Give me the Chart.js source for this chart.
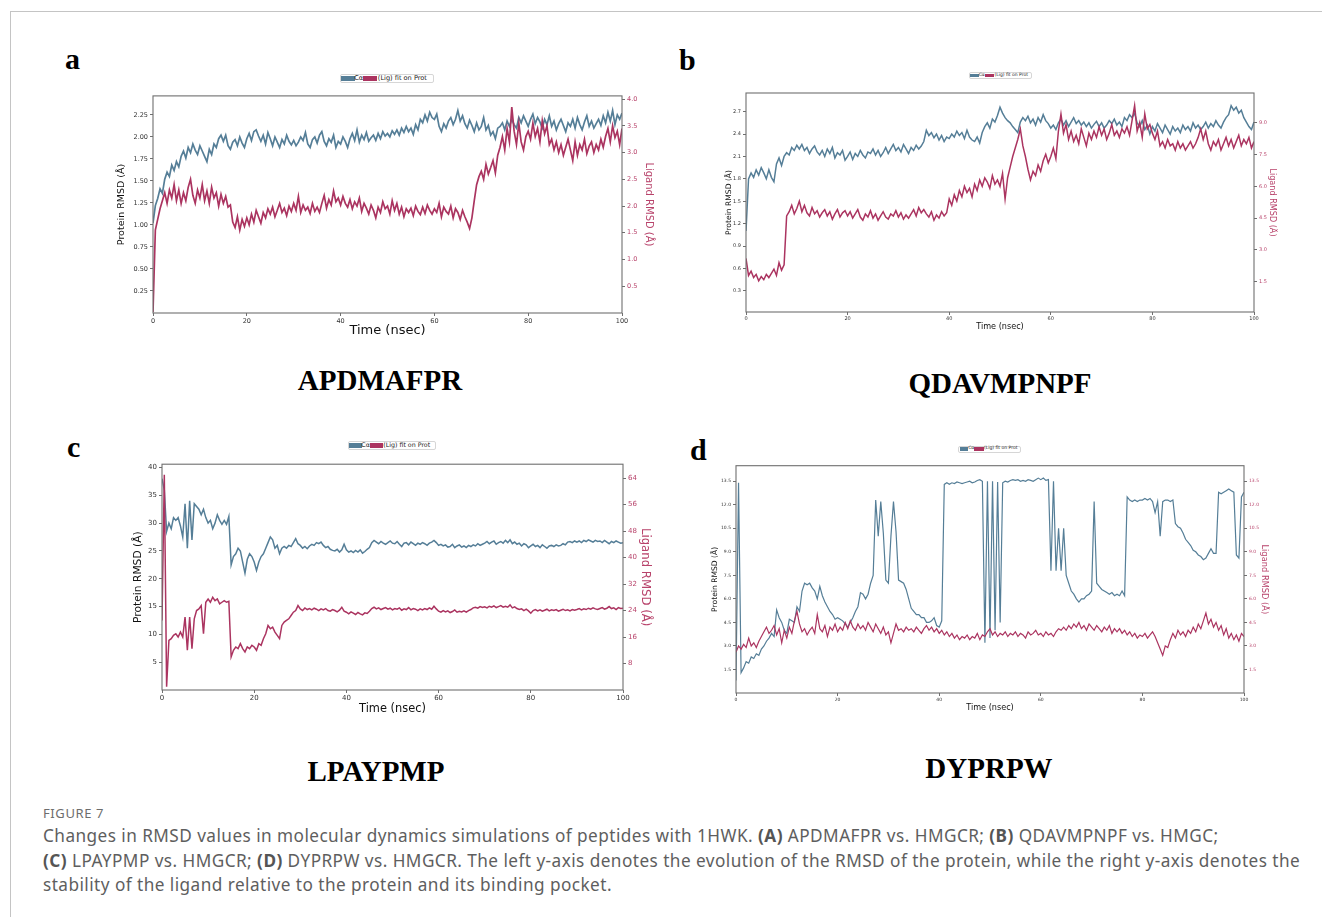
<!DOCTYPE html>
<html>
<head>
<meta charset="utf-8">
<script src="https://cdn.jsdelivr.net/npm/chart.js@4.4.1/dist/chart.umd.min.js"></script>
<style>
body{margin:0;background:#fff;width:1322px;height:917px;overflow:hidden;position:relative;font-family:"DejaVu Sans",sans-serif}
#frame{position:absolute;left:10px;top:11px;width:1330px;height:930px;border-left:1.5px solid #c4c4c4;border-top:1.5px solid #c4c4c4}
canvas{position:absolute}
.lbl{position:absolute;font-family:"Liberation Serif","Times New Roman",serif;font-weight:bold;line-height:1;white-space:nowrap;color:#000}
.panel{font-size:30px}
.pep{font-size:29px;text-align:center;width:300px}
.leg{position:absolute;border:1px solid #d6d6d6;border-radius:2px;background:#fff;box-sizing:border-box}
.leg span{position:absolute;white-space:nowrap;color:#222;line-height:1}
#figno{position:absolute;left:43px;top:805px;font-family:"Noto Sans",sans-serif;font-size:13px;line-height:16px;color:#6d6d6d;letter-spacing:0.6px}
#caption{position:absolute;left:43px;top:824px;font-family:"Noto Sans",sans-serif;font-size:17.2px;line-height:24.5px;color:#5e5e5e;white-space:nowrap;letter-spacing:0.45px}
#caption b{color:#555}
</style>
</head>
<body>
<div id="frame"></div>

<div class="lbl panel" style="left:65px;top:44px">a</div>
<div class="lbl panel" style="left:679px;top:45px">b</div>
<div class="lbl panel" style="left:67px;top:432px">c</div>
<div class="lbl panel" style="left:690px;top:435px">d</div>

<div class="lbl pep" style="left:230px;top:366px">APDMAFPR</div>
<div class="lbl pep" style="left:850px;top:369px">QDAVMPNPF</div>
<div class="lbl pep" style="left:226px;top:757px">LPAYPMP</div>
<div class="lbl pep" style="left:839px;top:754px">DYPRPW</div>

<div id="figno">FIGURE 7</div>
<div id="caption">Changes in RMSD values in molecular dynamics simulations of peptides with 1HWK. <b>(A)</b> APDMAFPR vs. HMGCR; <b>(B)</b> QDAVMPNPF vs. HMGC;<br><b>(C)</b> LPAYPMP vs. HMGCR; <b>(D)</b> DYPRPW vs. HMGCR. The left y-axis denotes the evolution of the RMSD of the protein, while the right y-axis denotes the<br>stability of the ligand relative to the protein and its binding pocket.</div>

<script>
// sampling step of all traces (ns)
const T_STEP = 0.5;

const X_TICKS = ['0', '20', '40', '60', '80', '100'];
const A_LEFT_TICKS = ['0.25', '0.50', '0.75', '1.00', '1.25', '1.50', '1.75', '2.00', '2.25'];
const A_RIGHT_TICKS = ['0.5', '1.0', '1.5', '2.0', '2.5', '3.0', '3.5', '4.0'];
const B_LEFT_TICKS = ['0.3', '0.6', '0.9', '1.2', '1.5', '1.8', '2.1', '2.4', '2.7'];
const B_RIGHT_TICKS = ['1.5', '3.0', '4.5', '6.0', '7.5', '9.0'];
const C_LEFT_TICKS = ['5', '10', '15', '20', '25', '30', '35', '40'];
const C_RIGHT_TICKS = ['8', '16', '24', '32', '40', '48', '56', '64'];
const D_LEFT_TICKS = ['1.5', '3.0', '4.5', '6.0', '7.5', '9.0', '10.5', '12.0', '13.5'];
const D_RIGHT_TICKS = ['1.5', '3.0', '4.5', '6.0', '7.5', '9.0', '10.5', '12.0', '13.5'];

// a) APDMAFPR
const A_PROT = [1.02,1.22,1.30,1.41,1.36,1.52,1.60,1.55,1.68,1.62,
1.72,1.66,1.78,1.84,1.76,1.88,1.82,1.92,1.85,1.80,
1.90,1.84,1.78,1.72,1.86,1.80,1.92,1.88,1.98,2.02,
1.95,2.02,1.90,1.86,1.94,1.97,1.90,2.00,1.93,1.88,
1.98,2.04,1.96,2.06,2.08,2.01,1.95,2.02,1.92,2.05,
1.98,1.90,2.00,1.94,1.88,1.97,1.92,2.02,1.95,1.91,
1.96,1.90,1.94,2.00,1.96,2.05,1.92,1.88,1.97,2.00,
1.93,2.02,2.06,1.95,1.90,1.98,1.94,2.02,1.88,1.95,
1.92,2.00,1.95,1.88,1.98,2.04,1.96,2.08,1.94,2.02,
1.97,2.05,1.95,1.99,2.02,1.96,2.04,1.98,2.06,2.01,
2.04,2.00,2.07,2.03,2.08,2.02,2.10,2.05,2.12,2.06,
2.10,2.03,2.14,2.08,2.20,2.16,2.25,2.18,2.28,2.22,
2.20,2.26,2.12,2.06,2.15,2.10,2.18,2.22,2.14,2.20,
2.30,2.18,2.24,2.15,2.10,2.19,2.13,2.06,2.16,2.08,
2.12,2.22,2.08,2.13,2.02,2.06,1.98,2.10,2.12,2.16,
2.08,2.18,2.12,2.20,2.14,2.10,2.22,2.16,2.24,2.18,
2.12,2.20,2.26,2.15,2.22,2.17,2.10,2.20,2.14,2.24,
2.12,2.18,2.08,2.15,2.20,2.13,2.06,2.16,2.12,2.20,
2.10,2.22,2.14,2.08,2.17,2.24,2.12,2.18,2.10,2.15,
2.20,2.13,2.24,2.16,2.28,2.18,2.30,2.14,2.25,2.20,
2.27];
const A_LIG = [0.02,1.55,1.75,1.95,2.10,2.25,2.05,2.30,2.15,2.40,
2.10,2.30,2.05,2.25,2.10,2.35,2.50,2.20,2.05,2.30,
2.15,2.40,2.10,2.28,2.05,2.35,2.15,2.25,2.00,2.22,
2.05,2.18,1.98,2.02,1.70,1.60,1.80,1.55,1.75,1.62,
1.78,1.65,1.85,1.70,1.92,1.80,1.68,1.88,1.78,1.95,
1.85,1.98,1.80,1.92,2.05,1.88,1.96,1.82,2.00,1.90,
2.05,1.92,2.18,1.88,2.02,1.92,1.98,1.86,2.05,1.90,
1.98,1.88,2.05,2.20,1.96,2.12,2.02,2.28,2.08,2.15,
2.02,2.18,2.05,1.98,2.12,1.95,2.08,2.00,2.15,1.90,
2.05,1.96,1.85,2.02,1.92,1.78,1.98,1.88,2.08,1.95,
2.00,1.85,2.10,1.92,2.05,1.85,1.98,1.80,1.95,1.88,
1.96,1.82,2.00,1.90,1.84,1.98,1.86,2.02,1.92,1.85,
1.95,1.88,2.05,1.80,1.98,1.90,1.85,2.00,1.78,1.95,
1.88,1.75,1.92,1.80,1.70,1.58,1.78,2.10,2.40,2.55,
2.65,2.50,2.78,2.60,2.72,2.85,2.62,2.95,3.10,3.30,
3.05,3.45,3.20,3.85,3.40,3.15,3.55,3.20,3.05,3.30,
3.40,3.25,3.55,3.30,3.45,3.20,3.60,3.35,3.50,3.15,
3.25,3.05,3.20,3.00,3.15,2.95,3.10,3.25,3.05,2.85,
3.20,2.95,3.15,3.05,3.25,2.98,3.12,3.20,3.00,3.15,
3.05,3.25,3.10,3.30,3.45,3.20,3.50,3.28,3.40,3.15,
3.45];

// b) QDAVMPNPF
const B_PROT = [1.10,1.80,1.88,1.82,1.92,1.85,1.95,1.88,1.80,1.92,
1.82,1.76,2.00,2.08,1.98,2.10,2.15,2.12,2.22,2.18,
2.25,2.20,2.26,2.18,2.22,2.14,2.20,2.24,2.16,2.12,
2.18,2.10,2.20,2.14,2.22,2.08,2.15,2.12,2.18,2.05,
2.10,2.16,2.06,2.14,2.10,2.18,2.12,2.08,2.16,2.14,
2.20,2.12,2.18,2.10,2.15,2.22,2.14,2.20,2.26,2.18,
2.22,2.16,2.26,2.20,2.14,2.22,2.18,2.25,2.20,2.24,
2.30,2.45,2.38,2.42,2.35,2.40,2.32,2.38,2.30,2.36,
2.34,2.40,2.36,2.44,2.38,2.42,2.34,2.45,2.36,2.32,
2.30,2.36,2.28,2.42,2.50,2.55,2.48,2.60,2.56,2.65,
2.76,2.68,2.62,2.58,2.55,2.50,2.46,2.42,2.56,2.62,
2.58,2.64,2.55,2.60,2.52,2.62,2.56,2.66,2.58,2.54,
2.48,2.52,2.46,2.55,2.60,2.52,2.58,2.50,2.56,2.62,
2.54,2.58,2.52,2.56,2.50,2.55,2.48,2.53,2.57,2.50,
2.55,2.48,2.52,2.58,2.54,2.60,2.52,2.56,2.50,2.62,
2.58,2.66,2.62,2.68,2.55,2.50,2.58,2.46,2.52,2.40,
2.50,2.44,2.54,2.48,2.42,2.52,2.46,2.40,2.50,2.44,
2.48,2.42,2.52,2.46,2.50,2.44,2.55,2.48,2.52,2.46,
2.50,2.56,2.48,2.54,2.50,2.58,2.52,2.48,2.56,2.62,
2.66,2.78,2.72,2.76,2.68,2.72,2.62,2.56,2.50,2.46,
2.56];
const B_LIG = [2.60,1.80,2.00,1.70,1.85,1.55,1.75,1.60,1.85,1.70,
1.90,2.10,1.80,2.40,2.05,2.30,4.60,4.80,5.10,4.70,
4.95,5.30,4.80,5.10,4.75,4.60,5.00,4.70,4.85,4.55,
4.75,4.90,4.60,4.80,4.45,4.70,4.90,4.55,4.75,4.85,
4.60,4.80,4.50,4.70,4.90,4.55,4.40,4.70,4.55,4.85,
4.50,4.70,4.40,4.60,4.80,4.55,4.45,4.70,4.60,4.85,
4.55,4.75,4.45,4.65,4.50,4.70,4.90,4.60,5.00,4.75,
4.90,4.70,4.55,4.80,4.40,4.65,4.50,4.80,4.60,4.75,
5.40,5.10,5.60,5.30,5.80,5.50,6.00,5.70,5.90,5.50,
6.10,5.80,6.30,6.00,6.40,6.20,5.90,6.50,6.10,6.30,
6.00,6.60,5.40,6.40,6.90,7.40,7.80,8.20,8.70,7.90,
7.40,6.80,6.30,6.70,6.50,7.00,6.70,7.20,7.50,7.10,
7.40,7.80,7.30,8.60,9.40,8.50,8.90,8.20,8.60,8.10,
8.40,8.00,8.70,8.30,7.90,8.50,8.20,8.60,8.30,8.80,
8.40,8.70,8.20,8.50,8.90,8.40,8.60,8.30,8.70,8.50,
8.80,8.40,9.10,9.80,8.60,9.00,8.30,9.40,8.70,8.90,
8.50,8.20,8.60,7.90,8.10,7.80,8.20,7.90,8.00,7.70,
8.10,7.80,8.00,7.70,7.90,8.10,7.80,8.00,8.30,8.70,
8.20,8.60,8.00,7.70,8.10,7.90,8.20,7.70,8.00,8.30,
7.90,8.20,7.80,8.10,8.40,7.90,8.20,8.00,8.30,7.80,
8.10];

// c) LPAYPMP
const C_PROT = [38.0,36.0,28.5,30.0,29.0,31.0,30.5,31.0,29.5,27.5,
33.5,25.5,34.0,27.0,33.5,33.0,32.5,31.5,32.5,31.0,
30.0,30.5,29.0,30.0,31.5,30.5,29.8,30.5,29.8,31.2,
22.5,24.0,24.5,25.5,25.0,23.0,21.0,23.5,24.5,24.0,
23.0,21.5,23.0,24.0,24.5,25.5,26.5,27.5,27.0,25.5,
26.0,24.5,25.5,25.8,25.5,26.0,25.8,26.5,27.2,26.3,
26.0,25.5,25.8,25.4,25.9,26.2,26.0,26.5,26.3,26.6,
26.0,25.6,25.8,25.3,25.1,25.0,25.3,24.8,25.2,26.2,
25.2,24.8,25.0,24.7,25.1,24.8,25.2,24.6,24.9,25.3,
25.6,26.5,26.9,26.6,26.3,26.7,26.4,26.2,26.5,26.8,
26.4,26.3,26.7,26.2,25.8,26.4,26.5,26.1,26.6,26.3,
26.0,26.4,26.2,26.5,26.3,26.0,26.4,26.6,26.9,26.5,
26.0,26.2,25.9,26.1,25.7,25.8,26.2,25.6,25.9,26.1,
25.7,25.9,25.6,26.0,25.8,26.1,25.9,26.3,26.0,26.2,
26.4,26.7,26.3,26.6,26.8,26.2,26.5,26.7,26.4,26.9,
26.5,27.0,26.3,26.6,26.2,26.4,25.9,26.3,26.1,25.6,
25.9,26.2,25.8,26.0,25.6,26.1,25.8,25.5,25.9,26.0,
25.8,26.1,25.9,26.0,26.3,26.1,26.6,26.7,26.5,26.8,
26.6,26.8,26.5,26.9,26.7,27.0,26.8,26.6,26.9,26.7,
26.8,26.5,26.9,26.6,26.3,26.7,26.5,26.8,26.6,26.4,
26.5];
const C_LIG = [21.0,65.0,1.0,15.0,15.5,16.5,17.0,16.0,17.5,16.0,
22.0,12.0,22.0,12.5,21.5,24.0,24.5,25.5,17.0,26.5,
27.5,26.5,28.0,27.0,27.5,26.0,26.5,27.0,26.5,26.8,
10.0,12.0,13.0,12.5,14.0,12.5,11.5,13.0,12.5,13.5,
13.0,12.0,14.0,13.5,15.5,17.0,19.5,18.5,19.0,17.5,
16.5,15.5,19.5,20.5,21.0,21.5,22.5,23.5,24.0,25.5,
24.5,24.0,24.8,24.3,24.6,24.2,24.7,24.4,24.0,24.5,
24.2,24.6,24.0,23.8,24.3,24.0,23.6,24.1,25.0,23.8,
23.5,23.0,23.6,23.2,22.8,23.4,23.0,22.7,23.3,23.1,
23.8,24.6,25.0,24.5,24.8,24.3,24.6,24.9,24.4,24.7,
24.2,24.6,24.4,24.8,24.1,24.5,24.3,24.9,24.2,24.6,
24.4,24.0,24.5,24.2,24.6,24.3,24.8,24.4,25.3,24.5,
23.8,23.5,24.0,23.6,23.9,23.4,23.7,24.2,23.5,23.8,
23.6,23.9,23.5,24.0,24.3,24.8,25.0,24.7,25.2,24.9,
25.1,24.8,25.3,25.0,25.4,24.9,25.2,25.5,25.0,25.3,
25.0,25.7,24.8,25.1,24.6,24.3,24.5,24.0,24.4,23.9,
23.2,24.0,24.3,23.9,24.2,23.8,24.1,24.4,23.9,24.2,
24.0,24.3,23.8,24.1,24.4,24.0,24.2,23.9,24.3,24.1,
24.3,24.6,24.2,24.5,24.3,24.7,24.4,24.8,24.5,24.3,
24.6,24.9,24.4,24.7,25.2,24.6,24.8,24.3,24.9,24.6,
24.7];

// d) DYPRPW
const D_PROT = [0.80,13.40,1.30,1.60,2.00,1.90,2.30,2.20,2.50,2.40,
2.80,3.00,3.30,3.50,3.80,3.60,5.30,4.80,4.50,4.00,
3.80,4.70,4.60,4.50,5.50,5.20,6.50,7.00,6.90,7.00,
6.70,6.50,6.00,6.80,6.20,5.80,5.50,5.20,5.00,4.70,
4.80,4.70,4.60,4.40,4.20,4.50,4.80,5.20,5.50,6.40,
6.30,6.00,6.30,7.00,7.50,12.30,10.00,12.20,10.20,7.20,
7.00,10.00,12.20,10.30,7.20,7.10,7.00,6.60,6.00,5.40,
5.20,5.00,5.00,4.80,4.80,4.50,4.50,4.60,4.80,4.30,
4.20,4.60,13.30,13.40,13.30,13.40,13.35,13.45,13.40,13.35,
13.40,13.45,13.50,13.40,13.45,13.55,13.60,13.50,3.20,13.50,
3.50,13.50,4.00,13.45,4.50,13.40,13.50,13.45,13.55,13.60,
13.55,13.60,13.50,13.55,13.50,13.60,13.55,13.50,13.60,13.70,
13.60,13.70,13.55,13.60,7.80,13.50,7.80,10.50,7.80,10.50,
7.50,7.00,6.50,6.30,6.00,5.80,6.00,6.00,6.20,6.30,
6.50,12.20,7.00,6.80,6.60,6.50,6.40,6.30,6.40,6.20,
6.30,6.20,6.50,6.20,12.50,12.30,12.20,12.30,12.20,12.30,
12.30,12.40,12.30,12.40,12.20,11.50,12.20,10.00,12.20,12.30,
12.30,12.20,12.30,10.80,10.60,10.50,10.20,9.80,9.60,9.40,
9.10,9.00,8.80,8.70,8.50,8.60,8.90,9.20,8.90,8.90,
12.80,12.70,12.80,12.90,13.00,12.90,12.80,8.80,8.60,12.50,
12.80];
const D_LIG = [2.60,3.00,2.80,3.10,2.90,3.50,3.00,3.20,2.90,3.30,
3.60,3.90,4.20,3.80,4.00,4.30,3.70,4.10,3.20,4.00,
3.50,4.20,3.80,4.60,5.20,4.40,3.90,4.10,3.70,4.00,
4.20,3.80,5.00,4.10,3.90,4.30,3.60,4.20,4.00,4.40,
3.90,4.20,4.00,4.50,4.10,4.60,4.20,4.00,4.40,4.10,
4.30,4.00,4.50,4.20,3.90,4.40,4.10,3.80,4.20,3.70,
3.90,3.20,3.80,4.40,4.00,4.10,3.90,4.20,4.00,4.10,
3.90,4.20,4.00,3.80,4.10,4.30,4.00,4.20,3.90,4.10,
3.80,4.00,3.70,3.90,3.60,3.80,3.50,3.70,3.40,3.60,
3.50,3.70,3.40,3.60,3.50,3.80,3.40,3.70,3.60,3.90,
4.10,3.70,3.90,3.60,3.80,3.70,3.90,3.60,3.80,3.70,
3.90,3.60,3.80,3.70,3.50,3.90,3.70,3.80,4.00,3.70,
3.80,3.60,3.90,3.70,3.80,3.60,3.90,4.10,4.00,4.20,
4.00,4.30,4.10,4.40,4.20,4.50,4.10,4.30,4.00,4.40,
4.20,4.00,4.30,4.10,3.90,4.20,4.00,4.30,3.80,4.10,
3.90,4.10,3.80,4.00,3.70,3.90,3.60,3.80,3.50,3.70,
3.60,3.80,3.50,3.70,3.90,3.60,3.20,2.80,2.40,3.00,
2.90,3.40,3.80,3.50,4.00,3.70,3.90,3.60,4.00,3.80,
4.20,3.90,4.40,4.10,4.60,5.10,4.40,4.70,4.20,4.50,
4.00,4.30,3.70,4.10,3.50,3.80,3.40,3.70,3.30,3.80,
3.60];

const BLUE = '#557e97';
const CRIMSON = '#ab3460';
const RIGHT_TEXT = '#b8436b';
const SPINE = '#6f6f6f';

// plot rectangles and text sizes of the four panels (page pixels)
const panels = [
    { prot: A_PROT, lig: A_LIG, leftTicks: A_LEFT_TICKS, rightTicks: A_RIGHT_TICKS,
      plot: { l: 153, r: 622, t: 94, b: 313 }, yL: [0, 2.466], yR: [0, 4.06],
      leftW: 39, rightW: 35, bottomH: 25, topPad: 4,
      tick: 6.5, lTitle: 9.5, rTitle: 10, xTitle: 13, pad: 2, line: 1.7,
      legend: [339.5, 74, 94.5, 9, 6.6] },
    { prot: B_PROT, lig: B_LIG, leftTicks: B_LEFT_TICKS, rightTicks: B_RIGHT_TICKS,
      plot: { l: 746, r: 1254, t: 92, b: 312 }, yL: [0.016, 2.95], yR: [0.08, 10.39],
      leftW: 23, rightW: 24, bottomH: 20, topPad: 4,
      tick: 5, lTitle: 7.6, rTitle: 8.1, xTitle: 8.1, pad: 1, line: 1.5,
      legend: [968.5, 72, 63, 7, 4.5] },
    { prot: C_PROT, lig: C_LIG, leftTicks: C_LEFT_TICKS, rightTicks: C_RIGHT_TICKS,
      plot: { l: 162, r: 623, t: 462, b: 690 }, yL: [0, 40.6], yR: [0, 68.2],
      leftW: 32, rightW: 31, bottomH: 26, topPad: 4,
      tick: 7, lTitle: 10.7, rTitle: 11.7, xTitle: 11.4, pad: 2, line: 1.5,
      legend: [347.5, 440.5, 88, 9.5, 6.3] },
    { prot: D_PROT, lig: D_LIG, leftTicks: D_LEFT_TICKS, rightTicks: D_RIGHT_TICKS,
      plot: { l: 736, r: 1244, t: 465, b: 693 }, yL: [0, 14.49], yR: [0, 14.49],
      leftW: 27, rightW: 26, bottomH: 20, topPad: 4,
      tick: 4.5, lTitle: 7.6, rTitle: 8.3, xTitle: 8.1, pad: 1, line: 1.2,
      legend: [958, 445.5, 63, 7, 4.5] }
];

const framePlugin = {
    id: 'frame',
    afterDraw(chart) {
        const a = chart.chartArea;
        const ctx = chart.ctx;
        ctx.save();
        ctx.strokeStyle = SPINE;
        ctx.lineWidth = 1.1;
        ctx.strokeRect(a.left, a.top, a.right - a.left, a.bottom - a.top);
        ctx.restore();
    }
};

function toPoints(values) {
    return values.map((v, i) => ({ x: i * T_STEP, y: v }));
}

function fixedTicks(labels) {
    return axis => { axis.ticks = labels.map(s => ({ value: parseFloat(s) })); };
}

function addLegend(box) {
    const [x, y, w, h, fs] = box;
    const leg = document.createElement('div');
    leg.className = 'leg';
    leg.style.cssText = `left:${x}px;top:${y}px;width:${w}px;height:${h}px`;
    const ph = h * 0.55, pt = (h - ph) / 2 - 1;
    leg.innerHTML =
        `<span style="left:${w*0.01}px;top:${pt}px;width:${w*0.14}px;height:${ph}px;background:${BLUE}"></span>` +
        `<span style="left:${w*0.145}px;top:${pt - 1}px;font-size:${fs}px">Cα</span>` +
        `<span style="left:${w*0.24}px;top:${pt}px;width:${w*0.15}px;height:${ph}px;background:${CRIMSON}"></span>` +
        `<span style="left:${w*0.395}px;top:${pt - 1}px;font-size:${fs}px">(Lig) fit on Prot</span>`;
    document.body.appendChild(leg);
}

function drawPanel(p) {
    const cv = document.createElement('canvas');
    const w = p.leftW + (p.plot.r - p.plot.l) + p.rightW;
    const h = p.topPad + (p.plot.b - p.plot.t) + p.bottomH;
    cv.width = w;
    cv.height = h;
    cv.style.left = (p.plot.l - p.leftW) + 'px';
    cv.style.top = (p.plot.t - p.topPad) + 'px';
    document.body.appendChild(cv);

    const tickFont = { family: 'DejaVu Sans', size: p.tick };
    const tickGrid = { display: true, drawOnChartArea: false, drawTicks: true, tickLength: 3, color: SPINE, lineWidth: 1 };

    new Chart(cv.getContext('2d'), {
        type: 'line',
        data: {
            datasets: [
                { label: 'Cα', data: toPoints(p.prot), yAxisID: 'yL', borderColor: BLUE,
                  borderWidth: p.line, pointRadius: 0, tension: 0, order: 1 },
                { label: '(Lig) fit on Prot', data: toPoints(p.lig), yAxisID: 'yR', borderColor: CRIMSON,
                  borderWidth: p.line, pointRadius: 0, tension: 0, order: 0 }
            ]
        },
        options: {
            responsive: false,
            animation: false,
            events: [],
            layout: { padding: { top: p.topPad, left: 0, right: 0, bottom: 0 } },
            plugins: { legend: { display: false }, tooltip: { enabled: false } },
            scales: {
                x: {
                    type: 'linear', position: 'bottom', min: 0, max: 100,
                    afterBuildTicks: fixedTicks(X_TICKS),
                    afterFit: s => { s.height = p.bottomH; },
                    ticks: { font: tickFont, color: '#333', padding: 1, autoSkip: false, maxRotation: 0,
                             callback: (v, i) => X_TICKS[i] },
                    grid: tickGrid,
                    border: { display: false },
                    title: { display: true, text: 'Time (nsec)', color: '#111',
                             font: { family: 'DejaVu Sans', size: p.xTitle }, padding: { top: 0, bottom: 0 } }
                },
                yL: {
                    type: 'linear', position: 'left', min: p.yL[0], max: p.yL[1],
                    afterBuildTicks: fixedTicks(p.leftTicks),
                    afterFit: s => { s.width = p.leftW; },
                    ticks: { font: tickFont, color: '#333', padding: 2, autoSkip: false,
                             callback: (v, i) => p.leftTicks[i] },
                    grid: tickGrid,
                    border: { display: false },
                    title: { display: true, text: 'Protein RMSD (Å)', color: '#111',
                             font: { family: 'DejaVu Sans', size: p.lTitle }, padding: { top: p.pad, bottom: 0 } }
                },
                yR: {
                    type: 'linear', position: 'right', min: p.yR[0], max: p.yR[1],
                    afterBuildTicks: fixedTicks(p.rightTicks),
                    afterFit: s => { s.width = p.rightW; },
                    ticks: { font: tickFont, color: RIGHT_TEXT, padding: 2, autoSkip: false,
                             callback: (v, i) => p.rightTicks[i] },
                    grid: tickGrid,
                    border: { display: false },
                    title: { display: true, text: 'Ligand RMSD (Å)', color: RIGHT_TEXT,
                             font: { family: 'DejaVu Sans', size: p.rTitle }, padding: { top: p.pad, bottom: 0 } }
                }
            }
        },
        plugins: [framePlugin]
    });

    addLegend(p.legend);
}

document.addEventListener('DOMContentLoaded', function() {
    panels.forEach(drawPanel);
});
</script>
</body>
</html>
